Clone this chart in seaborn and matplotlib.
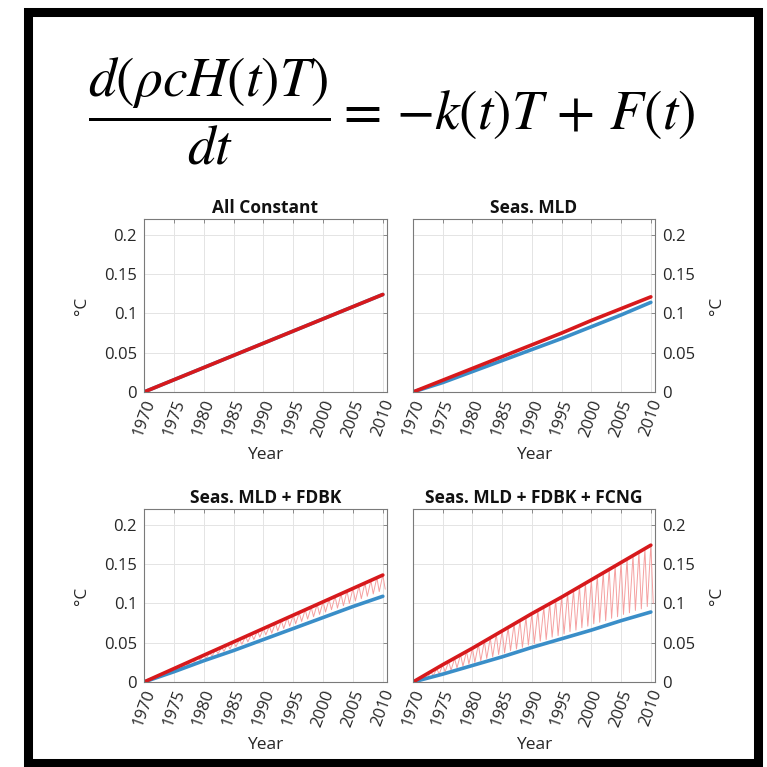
import matplotlib
matplotlib.use("Agg")
import matplotlib.pyplot as plt
import seaborn as sns
from matplotlib.patches import Rectangle

# --- data ---
years5 = [1970, 1975, 1980, 1985, 1990, 1995, 2000, 2005, 2010]
years = list(range(1970, 2011))

const_red = [0, 0.0155, 0.031, 0.0465, 0.062, 0.0775, 0.093, 0.1085, 0.124]
const_blue = [0, 0.0155, 0.031, 0.0465, 0.062, 0.0775, 0.093, 0.1085, 0.124]

mld_red = [0, 0.015, 0.030, 0.045, 0.060, 0.075, 0.091, 0.106, 0.121]
mld_blue = [0, 0.012, 0.026, 0.040, 0.054, 0.068, 0.083, 0.098, 0.114]

fdbk_red = [0, 0.017, 0.034, 0.051, 0.068, 0.085, 0.102, 0.119, 0.136]
fdbk_blue = [0, 0.013, 0.027, 0.040, 0.054, 0.068, 0.082, 0.096, 0.109]
fdbk_peak = [0.000, 0.003, 0.007, 0.010, 0.014, 0.017, 0.020, 0.024, 0.027, 0.031,
             0.034, 0.037, 0.041, 0.044, 0.048, 0.051, 0.054, 0.058, 0.061, 0.065,
             0.068, 0.071, 0.075, 0.078, 0.082, 0.085, 0.088, 0.092, 0.095, 0.099,
             0.102, 0.105, 0.109, 0.112, 0.116, 0.119, 0.122, 0.126, 0.129, 0.133,
             0.136]
fdbk_trough = [0.001, 0.004, 0.007, 0.010, 0.013, 0.016, 0.019, 0.022, 0.025, 0.028,
               0.030, 0.033, 0.036, 0.039, 0.042, 0.045, 0.048, 0.051, 0.054, 0.057,
               0.060, 0.062, 0.065, 0.068, 0.071, 0.074, 0.077, 0.080, 0.083, 0.086,
               0.089, 0.092, 0.094, 0.097, 0.100, 0.103, 0.106, 0.109, 0.112, 0.115,
               0.118]

fcng_red = [0, 0.022, 0.043, 0.065, 0.087, 0.108, 0.130, 0.152, 0.174]
fcng_blue = [0, 0.010, 0.021, 0.032, 0.044, 0.055, 0.066, 0.078, 0.089]
fcng_peak = [0.000, 0.004, 0.009, 0.013, 0.017, 0.022, 0.026, 0.030, 0.035, 0.039,
             0.043, 0.048, 0.052, 0.056, 0.061, 0.065, 0.069, 0.074, 0.078, 0.082,
             0.087, 0.091, 0.095, 0.100, 0.104, 0.108, 0.113, 0.117, 0.122, 0.126,
             0.130, 0.135, 0.139, 0.143, 0.148, 0.152, 0.156, 0.161, 0.165, 0.169,
             0.174]
fcng_trough = [0.001, 0.003, 0.005, 0.008, 0.010, 0.013, 0.015, 0.018, 0.020, 0.023,
               0.025, 0.027, 0.030, 0.032, 0.035, 0.037, 0.040, 0.042, 0.044, 0.047,
               0.049, 0.052, 0.054, 0.057, 0.059, 0.061, 0.064, 0.066, 0.069, 0.071,
               0.074, 0.076, 0.078, 0.081, 0.083, 0.086, 0.088, 0.091, 0.093, 0.096,
               0.100]

yticks = [0, 0.05, 0.1, 0.15, 0.2]
ytick_labels = ["0", "0.05", "0.1", "0.15", "0.2"]
titles = ["All Constant", "Seas. MLD", "Seas. MLD + FDBK", "Seas. MLD + FDBK + FCNG"]

RED = "#d7191c"
BLUE = "#3a8ec8"
PINK = "#f5a0a0"
TROUGH_PHASE = 0.4

sns.set_theme(style="white")
plt.rcParams["font.family"] = ["Open Sans", "DejaVu Sans"]
plt.rcParams["mathtext.fontset"] = "stix"

fig = plt.figure(figsize=(7.67, 7.67), dpi=100)
fig.patch.set_facecolor("white")

W = 767.0
def axes_px(x0, x1, y0, y1):
    return fig.add_axes([x0 / W, 1 - y1 / W, (x1 - x0) / W, (y1 - y0) / W])

ax_tl = axes_px(144, 387, 219, 392)
ax_tr = axes_px(413, 655, 219, 392)
ax_bl = axes_px(144, 387, 509, 682)
ax_br = axes_px(413, 655, 509, 682)


def saw(peak, trough):
    xs, ys = [], []
    for y, p, t in zip(years, peak, trough):
        xs += [y, y + TROUGH_PHASE]
        ys += [p, t]
    return xs, ys


# --- lines ---
sns.lineplot(x=years5, y=const_blue, ax=ax_tl, color=BLUE, linewidth=2.6)
sns.lineplot(x=years5, y=const_red, ax=ax_tl, color=RED, linewidth=2.6)

sns.lineplot(x=years5, y=mld_blue, ax=ax_tr, color=BLUE, linewidth=2.6)
sns.lineplot(x=years5, y=mld_red, ax=ax_tr, color=RED, linewidth=2.6)

for ax, peak, trough, blue, red in [(ax_bl, fdbk_peak, fdbk_trough, fdbk_blue, fdbk_red),
                                    (ax_br, fcng_peak, fcng_trough, fcng_blue, fcng_red)]:
    sx, sy = saw(peak, trough)
    sns.lineplot(x=sx, y=sy, ax=ax, color=PINK, linewidth=0.7, sort=False, estimator=None)
    sns.lineplot(x=years5, y=blue, ax=ax, color=BLUE, linewidth=2.6)
    sns.lineplot(x=years5, y=red, ax=ax, color=RED, linewidth=2.6)

# --- axes styling ---
for i, ax in enumerate([ax_tl, ax_tr, ax_bl, ax_br]):
    right = i % 2 == 1
    ax.set_xlim(1970, 2010.7)
    ax.set_ylim(0, 0.22)
    ax.set_xticks(years5)
    ax.set_xticklabels([str(y) for y in years5], rotation=70, ha="center", va="top")
    ax.set_yticks(yticks)
    ax.set_yticklabels(ytick_labels)
    ax.grid(True, color="#e4e4e4", linewidth=0.7)
    ax.set_axisbelow(True)
    ax.tick_params(direction="in", length=3, width=0.6, top=True, right=True,
                   labelsize=12, colors="#7a7a7a", labelcolor="#262626")
    ax.tick_params(axis="x", pad=4)
    ax.tick_params(axis="y", pad=5)
    for s in ax.spines.values():
        s.set_color("#7a7a7a")
        s.set_linewidth(0.8)
    ax.set_title(titles[i], fontsize=12.5, fontweight="bold", color="#111111", pad=4)
    ax.set_xlabel("Year", fontsize=12.5, color="#262626", labelpad=6)
    ax.set_ylabel("°C", fontsize=12.5, color="#262626", labelpad=10)
    if right:
        ax.tick_params(axis="y", labelleft=False, labelright=True)
        ax.yaxis.set_label_position("right")

# --- equation ---
fig.text(0.51, 0.855, r"$\dfrac{d(\rho cH(t)T)}{dt}=\,{-}k(t)T\,+\,F(t)$",
         fontsize=40, ha="center", va="center", color="black")

# --- black frame ---
fig.patches.append(Rectangle((28 / W, 1 - 763 / W), (757.5 - 28) / W, (763 - 12) / W,
                             transform=fig.transFigure, fill=False,
                             edgecolor="black", linewidth=6.5))

fig.savefig("out.png", dpi=100)
